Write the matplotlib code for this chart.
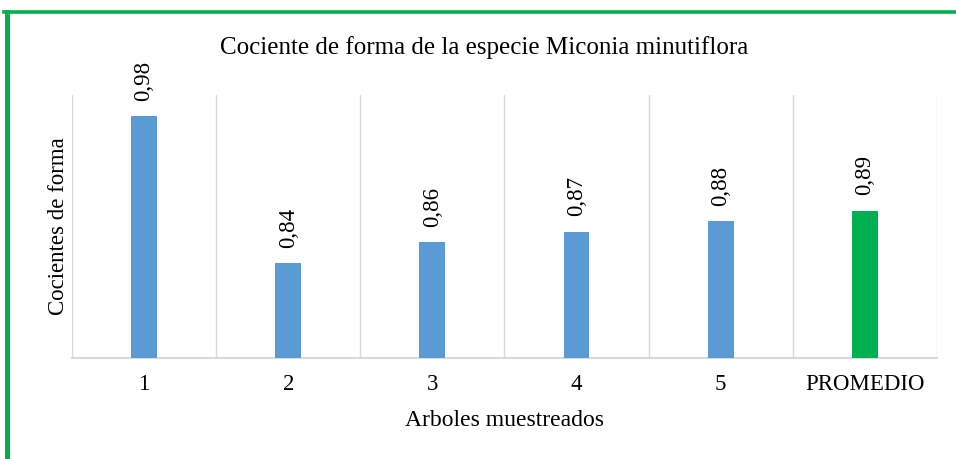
import matplotlib.pyplot as plt
from matplotlib.lines import Line2D

# data
arboles = ['1', '2', '3', '4', '5', 'PROMEDIO']
cocientes = [0.98, 0.84, 0.86, 0.87, 0.88, 0.89]
etiquetas = ['0,98', '0,84', '0,86', '0,87', '0,88', '0,89']

azul = '#5B9BD5'
verde = '#00B050'
gris = '#D9D9D9'
colores = [azul] * 5 + [verde]

plt.rcParams['font.family'] = ['Liberation Serif', 'DejaVu Serif']

fig = plt.figure(figsize=(9.56, 4.59), dpi=100)
ax = fig.add_axes([0.0753, 0.2211, 0.9047, 0.5719])

x = list(range(len(arboles)))
bars = ax.bar(x, cocientes, width=0.18, color=colores, zorder=3)

for b, txt in zip(bars, etiquetas):
    ax.annotate(txt, (b.get_x() + b.get_width() / 2, b.get_height()),
                xytext=(0, 11), textcoords='offset points',
                rotation=90, ha='center', va='bottom', fontsize=16.5)

ax.set_ylim(0.75, 1.0)
ax.set_xlim(-0.5, len(arboles) - 0.5)
ax.set_yticks([])
ax.set_xticks(x)
ax.set_xticklabels(arboles, fontsize=16.5)
ax.tick_params(axis='x', length=0, pad=12)

# vertical separators between categories
for g in range(len(arboles) + 1):
    ax.axvline(g - 0.5, color=gris, lw=1, zorder=1)

for s in ['top', 'left', 'right']:
    ax.spines[s].set_visible(False)
ax.spines['bottom'].set_color(gris)
ax.spines['bottom'].set_linewidth(1.5)

ax.set_xlabel('Arboles muestreados', fontsize=17, labelpad=11)
ax.set_ylabel('Cocientes de forma', fontsize=16.5, labelpad=2)
fig.text(0.506, 0.897, 'Cociente de forma de la especie Miconia minutiflora',
         ha='center', va='center', fontsize=18)

# green frame on left and top
W, H = 956, 459
fig.add_artist(Line2D([6.5 / W, 6.5 / W], [0, 1 - 11.5 / H], color=verde,
                      lw=3.6, transform=fig.transFigure))
fig.add_artist(Line2D([4 / W, 1], [1 - 11.5 / H, 1 - 11.5 / H], color=verde,
                      lw=2.6, transform=fig.transFigure))

fig.savefig('out.png', dpi=100)
